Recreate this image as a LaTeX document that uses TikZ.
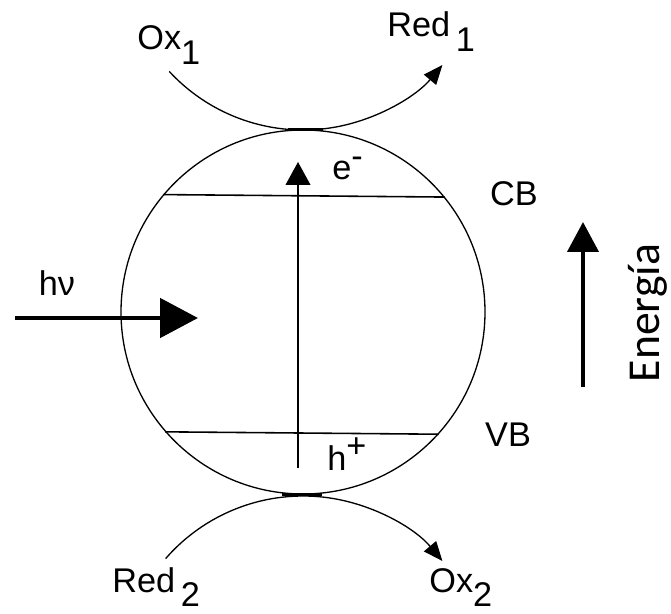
\documentclass[tikz,border=0pt]{standalone}
\usepackage{fontspec}
\setmainfont{Liberation Sans}
\newfontfamily\energyfont{Carlito}
\usepackage{tikz}
\usetikzlibrary{shapes,arrows.meta,positioning,calc}

\newcommand{\lowsub}[1]{\raisebox{-8.5pt}{#1}}

\begin{document}
\begin{tikzpicture}[
        every node/.style={font=\fontsize{19.5}{22}\selectfont, inner sep=0pt},
        thinarc/.style={line width=0.75pt},
        bandline/.style={line width=0.9pt},
        redoxtip/.style={-{Triangle[length=11pt,width=9pt]}}]
        \useasboundingbox (0,0) rectangle (13.42,12.26);

        % Semiconductor particle
        \node[circle, draw, line width=0.75pt, minimum size=7.28cm] (particle) at (6.06,6.02) {};

        % Conduction band and valence band
        \draw[bandline] (particle.140.4) -- (particle.39.6);
        \draw[bandline] (particle.221.2) -- (particle.318.8);

        % Excitation of the electron
        \coordinate (hole) at (5.96,2.90);
        \coordinate (electron) at (5.96,9.02);
        \draw[bandline, -{Triangle[length=13pt,width=14pt]}] (hole) -- (electron);

        % Contact points
        \draw[line width=2pt] ($(particle.north)+(-0.30,0)$) -- ($(particle.north)+(0.40,0)$);
        \draw[line width=2pt] ($(particle.south)+(-0.42,0)$) -- ($(particle.south)+(0.38,0)$);

        % Redox arcs
        \coordinate (oxin) at ($(6.06,13.30)+(222.7:3.64)$);
        \draw[thinarc, redoxtip] (oxin) arc[start angle=222.7, end angle=320, radius=3.64];
        \coordinate (redin) at ($(6.06,-1.30)+(139:3.64)$);
        \draw[thinarc, redoxtip] (redin) arc[start angle=139, end angle=40, radius=3.64];

        % Labels
        \node[anchor=base west] (ox1) at (2.74,11.26) {Ox\lowsub{1}};
        \node[anchor=base west] (red1) at (7.74,11.52) {Red\,\lowsub{1}};
        \node[anchor=base west] (red2) at (2.24,0.42) {Red\,\lowsub{2}};
        \node[anchor=base west] (ox2) at (8.58,0.42) {Ox\lowsub{2}};
        \node[anchor=base west] (eminus) at (6.64,8.66) {e\raisebox{7pt}{-}};
        \node[anchor=base west] (hplus) at (6.54,2.86) {h\raisebox{7pt}{+}};
        \node (cb) at (10.28,8.38) {CB};
        \node (vb) at (10.16,3.56) {VB};

        % Incoming light
        \coordinate (lightin) at (0.30,5.90);
        \coordinate (lightout) at (3.96,5.90);
        \draw[line width=2.8pt, -{Triangle[length=0.76cm,width=0.78cm]}] (lightin) -- (lightout);
        \node (hnu) at (1.14,6.60) {hν};

        % Energy axis
        \coordinate (elow) at (11.66,4.52);
        \coordinate (ehigh) at (11.66,7.82);
        \draw[line width=2.3pt, -{Triangle[length=0.6cm,width=0.62cm]}] (elow) -- (ehigh);
        \node[rotate=90, font=\energyfont\fontsize{26}{28}\selectfont] (energia) at (12.96,6.0) {Energía};
\end{tikzpicture}
\end{document}
